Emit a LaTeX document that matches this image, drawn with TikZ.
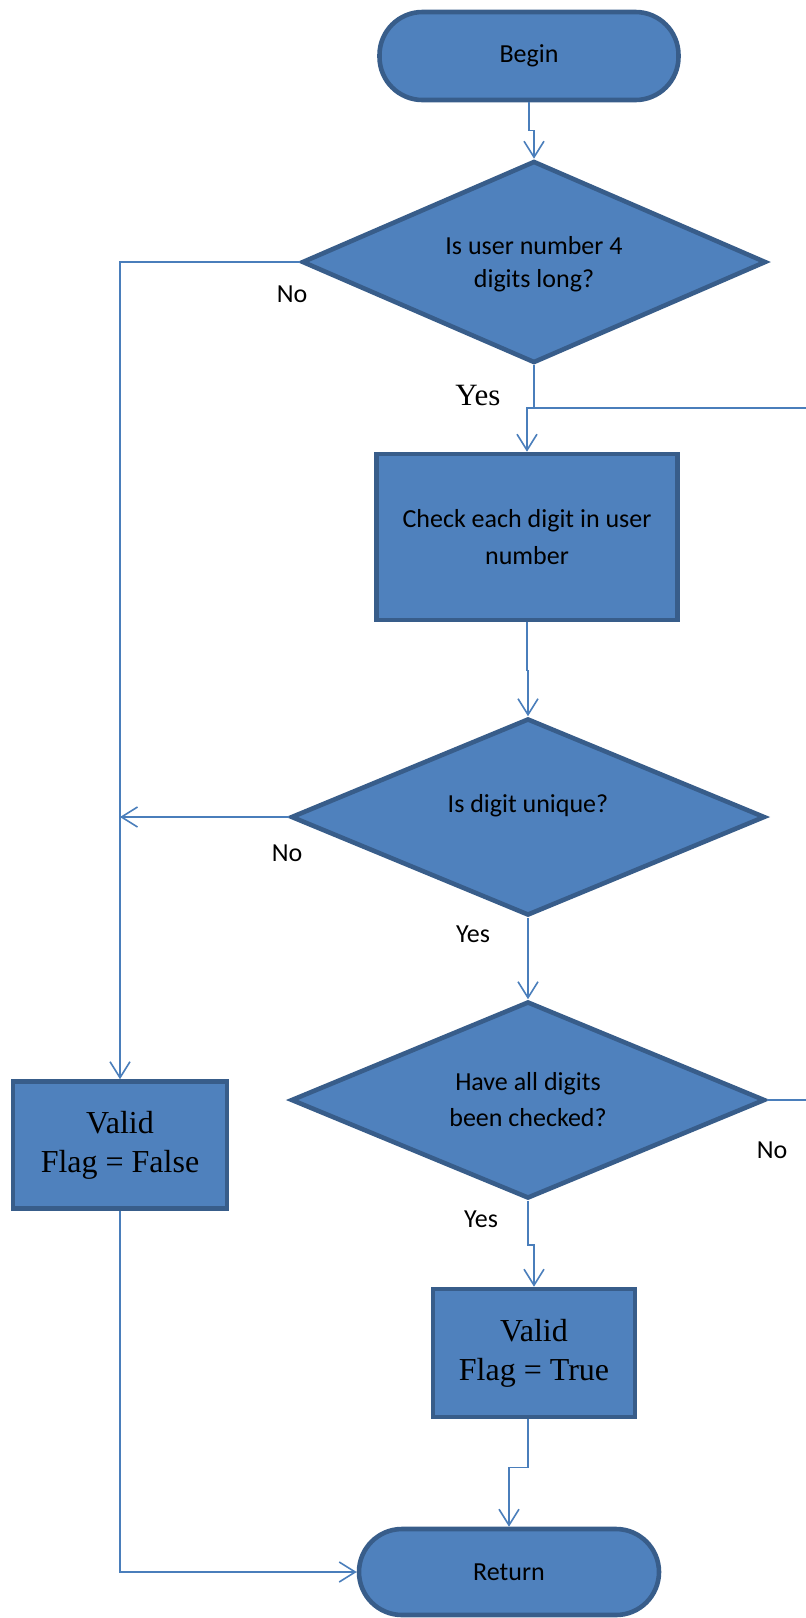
\documentclass[tikz,border=0pt]{standalone}
\usepackage{fontspec}
\setmainfont{Carlito}
\newfontfamily\tnr{Liberation Serif}
\usetikzlibrary{shapes.geometric,arrows.meta}
\definecolor{boxfill}{HTML}{4F81BD}
\definecolor{boxline}{HTML}{385D8A}
\definecolor{connline}{HTML}{4A7EBB}
\tikzset{
  shp/.style={fill=boxfill,draw=boxline,line width=4.6pt,inner sep=0pt,align=center,font=\fontsize{26}{33}\selectfont},
  term/.style={shp,rectangle,rounded corners=43pt},
  proc/.style={shp,rectangle},
  dia/.style={shp,diamond},
  conn/.style={draw=connline,line width=1.6pt},
  arr/.style={conn,-{Straight Barb[length=16pt,width=20pt]}},
  lbl/.style={font=\fontsize{26}{30}\selectfont,inner sep=0pt},
  tlbl/.style={font=\tnr\fontsize{31}{36}\selectfont,inner sep=0pt}
}
\begin{document}
\begin{tikzpicture}[x=1pt,y=-1pt]
\useasboundingbox (0,0) rectangle (806,1618);
\clip (0,0) rectangle (806,1618);
\node[term,minimum width=299pt,minimum height=88pt] (begin) at (529,56) {Begin};
\node[dia,minimum width=464pt,minimum height=202pt] (d1) at (534,262) {};
\node[font=\fontsize{26}{33}\selectfont,align=center,inner sep=0pt] (t1) at (534,264) {Is user number 4\\digits long?};
\node[proc,minimum width=301pt,minimum height=166pt,font=\fontsize{26}{37}\selectfont] (box1) at (527,537) {Check each digit in user\\number};
\node[dia,minimum width=474pt,minimum height=197pt] (d2) at (528,817) {};
\node[font=\fontsize{26}{33}\selectfont,inner sep=0pt] (t2) at (528,806) {Is digit unique?};
\node[dia,minimum width=474pt,minimum height=197pt] (d3) at (528,1100) {};
\node[font=\fontsize{26}{36}\selectfont,align=center,inner sep=0pt] (t3) at (528,1100) {Have all digits\\been checked?};
\node[proc,minimum width=202pt,minimum height=128pt,font=\tnr\fontsize{32}{39}\selectfont] (vtrue) at (534,1353) {Valid\\Flag = True};
\node[proc,minimum width=214pt,minimum height=127pt,font=\tnr\fontsize{32}{39}\selectfont] (vfalse) at (120,1145) {Valid\\Flag = False};
\node[term,minimum width=300pt,minimum height=86pt] (ret) at (509,1572) {Return};
\coordinate (j1) at (534,408);
% connectors
\draw[arr] (begin.south) -- ++(0,28) -| (d1.north);
\draw[arr] (d1.south) -- (j1) -| (box1.north);
\draw[conn] (d3.east) -- ++(80,0) |- (j1);
\draw[arr] (box1.south) -- ++(0,48) -| (d2.north);
\draw[arr] (d2.west) -- (vfalse.north |- d2.west);
\draw[arr] (d1.west) -| (vfalse.north);
\draw[arr] (d2.south) -- (d3.north);
\draw[arr] (d3.south) -- ++(0,44) -| (vtrue.north);
\draw[arr] ([xshift=-6pt]vtrue.south) -- ++(0,48) -| (ret.north);
\draw[arr] (vfalse.south) |- (ret.west);
% labels
\node[lbl] (n1) at (292,294) {No};
\node[tlbl] (y1) at (478,395) {Yes};
\node[lbl] (n2) at (287,853) {No};
\node[lbl] (y2) at (473,934) {Yes};
\node[lbl] (n3) at (772,1150) {No};
\node[lbl] (y3) at (481,1219) {Yes};
\end{tikzpicture}
\end{document}
